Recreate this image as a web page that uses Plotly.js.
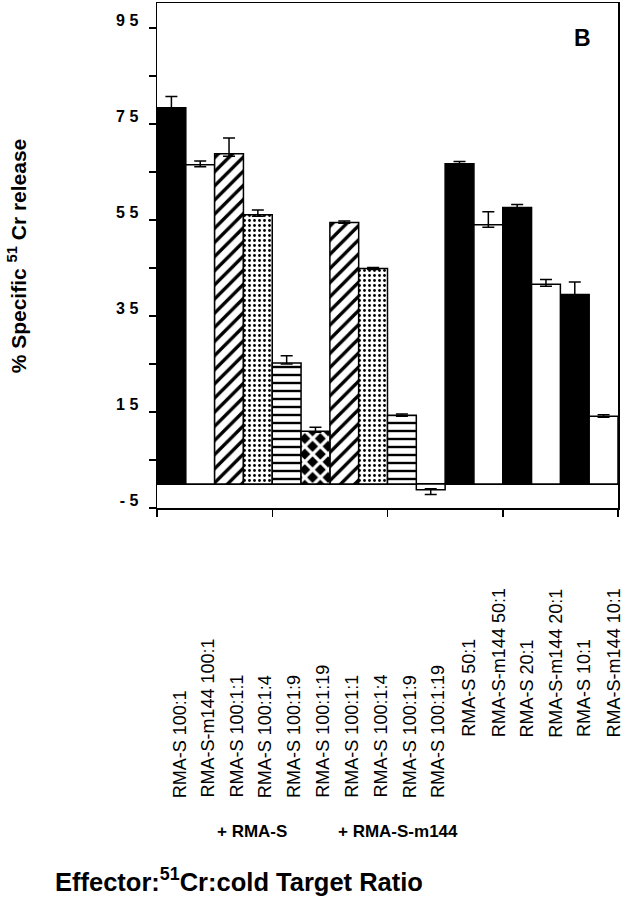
<!DOCTYPE html>
<html>
<head>
<meta charset="utf-8">
<script src="https://cdn.plot.ly/plotly-3.0.1.min.js"></script>
<style>html,body{margin:0;padding:0;background:#fff;}#chart{width:626px;height:899px;}</style>
</head>
<body>
<div id="chart"></div>
<script>
// ---- data ----
const categories = ['RMA-S 100:1','RMA-S-m144 100:1','RMA-S 100:1:1','RMA-S 100:1:4','RMA-S 100:1:9','RMA-S 100:1:19',
  'RMA-S 100:1:1','RMA-S 100:1:4','RMA-S 100:1:9','RMA-S 100:1:19',
  'RMA-S 50:1','RMA-S-m144 50:1','RMA-S 20:1','RMA-S-m144 20:1','RMA-S 10:1','RMA-S-m144 10:1'];
const values  = [78.4, 66.5, 68.8, 56.1, 25.2, 11.0, 54.5, 44.9, 14.3, -1.2, 66.7, 54.0, 57.6, 41.6, 39.5, 14.1];
const errUp   = [2.3, 0.8, 3.3, 1.0, 1.5, 0.8, 0.3, 0.2, 0.3, 0.2, 0.5, 2.7, 0.6, 1.0, 2.6, 0.3];
const errDown = [2.3, 0.4, 0.5, 0.3, 0.2, 0.2, 0.2, 0.2, 0.2, 1.0, 0.5, 0.5, 0.6, 0.4, 2.6, 0.2];
const groupLabels = ['+ RMA-S', '+ RMA-S-m144'];
const yTickVals = [-5, 15, 35, 55, 75, 95];
const yTickText = ['- 5', '1 5', '3 5', '5 5', '7 5', '9 5'];
const panelLabel = 'B';

// ---- styles ----
const fillKind = ['solid','open','hatch','dots','hlines','diamond','hatch','dots','hlines','open',
  'solid','open','solid','open','solid','open'];
const styleTable = {
  solid:   {color:'#000', shape:''},
  open:    {color:'#fff', shape:''},
  hatch:   {color:'#000', shape:'/', fg:'#000', bg:'#fff', size:10, sol:0.34},
  dots:    {color:'#000', shape:'.', fg:'#000', bg:'#fff', size:5,  sol:0.25},
  hlines:  {color:'#000', shape:'-', fg:'#000', bg:'#fff', size:8,  sol:0.3},
  diamond: {color:'#fff', shape:'x', fg:'#fff', bg:'#000', size:11, sol:0.5}
};
const FONT = 'Liberation Sans, Arial, Helvetica, sans-serif';

const traces = Object.keys(styleTable).map(kind => {
  const st = styleTable[kind];
  const idx = [];
  fillKind.forEach((k, i) => { if (k === kind) idx.push(i); });
  const marker = {color: st.color, line: {color: '#000', width: 1.5}};
  if (st.shape) {
    marker.pattern = {shape: st.shape, fgcolor: st.fg, bgcolor: st.bg, size: st.size,
                      solidity: st.sol, fillmode: 'replace'};
  }
  return {
    type: 'bar', name: kind,
    x: idx,
    y: idx.map(i => values[i]),
    width: 1,
    marker: marker,
    error_y: {type: 'data', symmetric: false,
              array: idx.map(i => errUp[i]), arrayminus: idx.map(i => errDown[i]),
              color: '#000', thickness: 1.5, width: 6},
    hoverinfo: 'skip'
  };
});

const annotations = [];
categories.forEach((c, i) => {
  const second = i >= 10;
  annotations.push({
    xref: 'x', yref: 'paper', x: i, y: second ? -0.458 : -0.578,
    xanchor: 'center', yanchor: 'bottom', textangle: -90,
    xshift: second ? 10 : 8,
    text: c, showarrow: false,
    font: {family: FONT, size: 18, color: '#000'}
  });
});
annotations.push({xref:'x', yref:'paper', x:2.8, y:-0.640, xanchor:'center', yanchor:'middle',
  text: groupLabels[0], showarrow:false, font:{family:FONT, size:17, weight:'bold', color:'#000'}});
annotations.push({xref:'x', yref:'paper', x:7.85, y:-0.640, xanchor:'center', yanchor:'middle',
  text: groupLabels[1], showarrow:false, font:{family:FONT, size:17, weight:'bold', color:'#000'}});
annotations.push({xref:'paper', yref:'paper', x:0.178, y:-0.737, xanchor:'center', yanchor:'middle',
  text:'Effector:<sup>51</sup>Cr:cold Target Ratio', showarrow:false,
  font:{family:FONT, size:25.5, weight:'bold', color:'#000'}});
annotations.push({xref:'paper', yref:'paper', x:-0.304, y:0.5, xanchor:'center', yanchor:'middle',
  textangle:-90, text:'% Specific <sup>51</sup> Cr release', showarrow:false,
  font:{family:FONT, size:21, weight:'bold', color:'#000'}});
annotations.push({xref:'paper', yref:'paper', x:0.924, y:0.931, xanchor:'center', yanchor:'middle',
  text: panelLabel, showarrow:false, font:{family:FONT, size:23, weight:'bold', color:'#000'}});

const layout = {
  width: 626, height: 899,
  margin: {l:157, r:8, t:3, b:391},
  paper_bgcolor: '#fff', plot_bgcolor: '#fff',
  showlegend: false, barmode: 'overlay', bargap: 0,
  font: {family: FONT, color: '#000'},
  xaxis: {
    range: [-0.5, 15.5], tickvals: [-0.5, 3.5, 7.5, 11.5, 15.5],
    ticks: 'outside', ticklen: 7, tickwidth: 1.5, tickcolor: '#000',
    showticklabels: false, showline: true, mirror: true, linecolor: '#000', linewidth: 1.5,
    showgrid: false, zeroline: false, fixedrange: true
  },
  yaxis: {
    range: [-5, 100.2], tickvals: yTickVals, ticktext: yTickText,
    ticks: 'outside', ticklen: 7, tickwidth: 1.5, tickcolor: '#000',
    minor: {tickvals: [5, 25, 45, 65, 85], ticks: 'outside', ticklen: 7, tickwidth: 1.5, tickcolor: '#000', showgrid: false},
    tickfont: {family: FONT, size: 16, weight: 'bold', color: '#000'},
    ticklabelshift: -8, ticklabelstandoff: 7,
    showline: true, mirror: true, linecolor: '#000', linewidth: 1.5,
    showgrid: false, zeroline: true, zerolinecolor: '#000', zerolinewidth: 1.5, fixedrange: true
  },
  annotations: annotations
};

Plotly.newPlot('chart', traces, layout, {displayModeBar: false, staticPlot: true});
</script>
</body>
</html>
